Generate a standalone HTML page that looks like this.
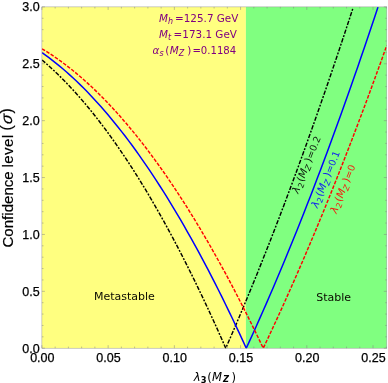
<!DOCTYPE html>
<html><head><meta charset="utf-8"><title>Confidence level plot</title>
<style>
html,body{margin:0;padding:0;background:#fff;}
svg{display:block;}
.tk{font-family:"Liberation Sans",sans-serif;font-size:12.5px;fill:#000;stroke:#000;stroke-width:0.25px;}
.dj{font-family:"DejaVu Sans",sans-serif;}
.it{font-style:italic;}
</style></head>
<body>
<svg width="388" height="383" viewBox="0 0 388 383">
<rect x="0" y="0" width="388" height="383" fill="#ffffff"/>
<rect x="41.9" y="6.9" width="204.0" height="341.3" fill="#ffff80"/>
<rect x="245.9" y="6.9" width="140.9" height="341.3" fill="#80ff80"/>
<clipPath id="fr"><rect x="41.9" y="6.9" width="344.90000000000003" height="341.6"/></clipPath>
<g fill="none" stroke-linejoin="round" clip-path="url(#fr)">
<path d="M42.00,59.94 L45.11,62.61 L48.23,65.36 L51.34,68.19 L54.46,71.09 L57.57,74.07 L60.69,77.12 L63.80,80.25 L66.92,83.46 L70.03,86.74 L73.14,90.10 L76.26,93.54 L79.37,97.05 L82.49,100.64 L85.60,104.30 L88.72,108.04 L91.83,111.86 L94.94,115.75 L98.06,119.72 L101.17,123.77 L104.29,127.89 L107.40,132.09 L110.52,136.37 L113.63,140.72 L116.75,145.15 L119.86,149.65 L122.97,154.23 L126.09,158.89 L129.20,163.62 L132.32,168.43 L135.43,173.32 L138.55,178.28 L141.66,183.32 L144.78,188.43 L147.89,193.62 L151.00,198.89 L154.12,204.23 L157.23,209.65 L160.35,215.15 L163.46,220.72 L166.58,226.37 L169.69,232.10 L172.81,237.90 L175.92,243.78 L179.03,249.73 L182.15,255.76 L185.26,261.87 L188.38,268.05 L191.49,274.31 L194.61,280.65 L197.72,287.06 L200.83,293.55 L203.95,300.11 L207.06,306.75 L210.18,313.47 L213.29,320.26 L216.41,327.13 L219.52,334.08 L222.64,341.10 L225.75,348.20 L229.01,340.73 L232.28,333.21 L235.54,325.61 L238.80,317.95 L242.06,310.22 L245.33,302.43 L248.59,294.57 L251.85,286.64 L255.12,278.65 L258.38,270.59 L261.64,262.46 L264.90,254.27 L268.17,246.01 L271.43,237.68 L274.69,229.29 L277.96,220.83 L281.22,212.31 L284.48,203.72 L287.74,195.06 L291.01,186.34 L294.27,177.55 L297.53,168.69 L300.79,159.77 L304.06,150.78 L307.32,141.73 L310.58,132.60 L313.85,123.41 L317.11,114.16 L320.37,104.84 L323.63,95.45 L326.90,86.00 L330.16,76.48 L333.42,66.89 L336.69,57.24 L339.95,47.52 L343.21,37.73 L346.47,27.88 L349.74,17.96 L353.00,7.98" stroke="#000" stroke-width="1.45" stroke-dasharray="4.3 1.5 1.9 1.5"/>
<path d="M42.00,52.68 L45.46,55.15 L48.92,57.70 L52.39,60.35 L55.85,63.08 L59.31,65.89 L62.77,68.80 L66.23,71.79 L69.69,74.87 L73.16,78.04 L76.62,81.30 L80.08,84.64 L83.54,88.07 L87.00,91.59 L90.47,95.20 L93.93,98.89 L97.39,102.67 L100.85,106.54 L104.31,110.50 L107.78,114.55 L111.24,118.68 L114.70,122.90 L118.16,127.21 L121.62,131.60 L125.08,136.08 L128.55,140.65 L132.01,145.31 L135.47,150.06 L138.93,154.89 L142.39,159.81 L145.86,164.82 L149.32,169.92 L152.78,175.10 L156.24,180.37 L159.70,185.73 L163.17,191.18 L166.63,196.72 L170.09,202.34 L173.55,208.05 L177.01,213.85 L180.47,219.73 L183.94,225.70 L187.40,231.76 L190.86,237.91 L194.32,244.15 L197.78,250.47 L201.25,256.88 L204.71,263.38 L208.17,269.97 L211.63,276.64 L215.09,283.40 L218.56,290.25 L222.02,297.19 L225.48,304.21 L228.94,311.33 L232.40,318.53 L235.86,325.81 L239.33,333.19 L242.79,340.65 L246.25,348.20 L249.63,340.87 L253.01,333.46 L256.38,325.98 L259.76,318.43 L263.14,310.80 L266.52,303.10 L269.90,295.32 L273.28,287.47 L276.65,279.54 L280.03,271.54 L283.41,263.46 L286.79,255.31 L290.17,247.08 L293.54,238.78 L296.92,230.41 L300.30,221.96 L303.68,213.43 L307.06,204.84 L310.44,196.16 L313.81,187.41 L317.19,178.59 L320.57,169.69 L323.95,160.72 L327.33,151.67 L330.71,142.55 L334.08,133.36 L337.46,124.09 L340.84,114.74 L344.22,105.32 L347.60,95.83 L350.97,86.26 L354.35,76.61 L357.73,66.89 L361.11,57.10 L364.49,47.23 L367.87,37.29 L371.24,27.27 L374.62,17.18 L378.00,7.01" stroke="#0000ff" stroke-width="1.5"/>
<path d="M42.00,48.76 L45.75,51.05 L49.50,53.44 L53.25,55.93 L57.00,58.51 L60.75,61.19 L64.50,63.97 L68.25,66.84 L72.00,69.80 L75.75,72.87 L79.50,76.03 L83.25,79.28 L87.00,82.63 L90.75,86.07 L94.50,89.62 L98.25,93.25 L102.00,96.99 L105.75,100.82 L109.50,104.74 L113.25,108.76 L117.00,112.88 L120.75,117.09 L124.50,121.40 L128.25,125.80 L132.00,130.30 L135.75,134.90 L139.50,139.59 L143.25,144.38 L147.00,149.26 L150.75,154.24 L154.50,159.32 L158.25,164.49 L162.00,169.76 L165.75,175.12 L169.50,180.58 L173.25,186.13 L177.00,191.78 L180.75,197.53 L184.50,203.37 L188.25,209.31 L192.00,215.34 L195.75,221.47 L199.50,227.70 L203.25,234.02 L207.00,240.44 L210.75,246.95 L214.50,253.56 L218.25,260.26 L222.00,267.07 L225.75,273.96 L229.50,280.95 L233.25,288.04 L237.00,295.23 L240.75,302.51 L244.50,309.88 L248.25,317.35 L252.00,324.92 L255.75,332.59 L259.50,340.35 L263.25,348.20 L266.42,341.52 L269.58,334.78 L272.75,327.99 L275.92,321.14 L279.08,314.24 L282.25,307.27 L285.42,300.25 L288.58,293.17 L291.75,286.04 L294.92,278.85 L298.08,271.60 L301.25,264.30 L304.42,256.93 L307.58,249.51 L310.75,242.04 L313.92,234.50 L317.08,226.91 L320.25,219.27 L323.42,211.56 L326.58,203.80 L329.75,195.98 L332.92,188.11 L336.08,180.17 L339.25,172.18 L342.42,164.14 L345.58,156.03 L348.75,147.87 L351.92,139.65 L355.08,131.38 L358.25,123.05 L361.42,114.66 L364.58,106.21 L367.75,97.71 L370.92,89.15 L374.08,80.53 L377.25,71.86 L380.42,63.13 L383.58,54.34 L386.75,45.50" stroke="#ff0000" stroke-width="1.45" stroke-dasharray="3.6 1.5"/>
</g>
<rect x="41.9" y="6.9" width="344.90000000000003" height="341.3" fill="none" stroke="#9a9a9a" stroke-width="0.5"/>
<path d="M41.90,348.2 v-3.0 M41.90,6.9 v3.0 M55.15,348.2 v-1.6 M55.15,6.9 v1.6 M68.39,348.2 v-1.6 M68.39,6.9 v1.6 M81.64,348.2 v-1.6 M81.64,6.9 v1.6 M94.88,348.2 v-1.6 M94.88,6.9 v1.6 M108.13,348.2 v-3.0 M108.13,6.9 v3.0 M121.37,348.2 v-1.6 M121.37,6.9 v1.6 M134.62,348.2 v-1.6 M134.62,6.9 v1.6 M147.86,348.2 v-1.6 M147.86,6.9 v1.6 M161.11,348.2 v-1.6 M161.11,6.9 v1.6 M174.35,348.2 v-3.0 M174.35,6.9 v3.0 M187.60,348.2 v-1.6 M187.60,6.9 v1.6 M200.84,348.2 v-1.6 M200.84,6.9 v1.6 M214.09,348.2 v-1.6 M214.09,6.9 v1.6 M227.33,348.2 v-1.6 M227.33,6.9 v1.6 M240.58,348.2 v-3.0 M240.58,6.9 v3.0 M253.82,348.2 v-1.6 M253.82,6.9 v1.6 M267.07,348.2 v-1.6 M267.07,6.9 v1.6 M280.31,348.2 v-1.6 M280.31,6.9 v1.6 M293.56,348.2 v-1.6 M293.56,6.9 v1.6 M306.80,348.2 v-3.0 M306.80,6.9 v3.0 M320.05,348.2 v-1.6 M320.05,6.9 v1.6 M333.29,348.2 v-1.6 M333.29,6.9 v1.6 M346.54,348.2 v-1.6 M346.54,6.9 v1.6 M359.78,348.2 v-1.6 M359.78,6.9 v1.6 M373.03,348.2 v-3.0 M373.03,6.9 v3.0 M386.27,348.2 v-1.6 M386.27,6.9 v1.6 M41.9,348.20 h3.0 M386.8,348.20 h-3.0 M41.9,336.82 h1.6 M386.8,336.82 h-1.6 M41.9,325.45 h1.6 M386.8,325.45 h-1.6 M41.9,314.07 h1.6 M386.8,314.07 h-1.6 M41.9,302.69 h1.6 M386.8,302.69 h-1.6 M41.9,291.32 h3.0 M386.8,291.32 h-3.0 M41.9,279.94 h1.6 M386.8,279.94 h-1.6 M41.9,268.56 h1.6 M386.8,268.56 h-1.6 M41.9,257.19 h1.6 M386.8,257.19 h-1.6 M41.9,245.81 h1.6 M386.8,245.81 h-1.6 M41.9,234.43 h3.0 M386.8,234.43 h-3.0 M41.9,223.06 h1.6 M386.8,223.06 h-1.6 M41.9,211.68 h1.6 M386.8,211.68 h-1.6 M41.9,200.30 h1.6 M386.8,200.30 h-1.6 M41.9,188.93 h1.6 M386.8,188.93 h-1.6 M41.9,177.55 h3.0 M386.8,177.55 h-3.0 M41.9,166.17 h1.6 M386.8,166.17 h-1.6 M41.9,154.80 h1.6 M386.8,154.80 h-1.6 M41.9,143.42 h1.6 M386.8,143.42 h-1.6 M41.9,132.04 h1.6 M386.8,132.04 h-1.6 M41.9,120.67 h3.0 M386.8,120.67 h-3.0 M41.9,109.29 h1.6 M386.8,109.29 h-1.6 M41.9,97.91 h1.6 M386.8,97.91 h-1.6 M41.9,86.54 h1.6 M386.8,86.54 h-1.6 M41.9,75.16 h1.6 M386.8,75.16 h-1.6 M41.9,63.78 h3.0 M386.8,63.78 h-3.0 M41.9,52.41 h1.6 M386.8,52.41 h-1.6 M41.9,41.03 h1.6 M386.8,41.03 h-1.6 M41.9,29.65 h1.6 M386.8,29.65 h-1.6 M41.9,18.28 h1.6 M386.8,18.28 h-1.6 M41.9,6.90 h3.0 M386.8,6.90 h-3.0" stroke="#808080" stroke-width="0.5" fill="none"/>
<g class="tk">
<text x="42.30" y="361.9" text-anchor="middle">0.00</text>
<text x="108.53" y="361.9" text-anchor="middle">0.05</text>
<text x="174.75" y="361.9" text-anchor="middle">0.10</text>
<text x="240.98" y="361.9" text-anchor="middle">0.15</text>
<text x="307.20" y="361.9" text-anchor="middle">0.20</text>
<text x="373.43" y="361.9" text-anchor="middle">0.25</text>
<text x="39.6" y="352.60" text-anchor="end">0.0</text>
<text x="39.6" y="295.72" text-anchor="end">0.5</text>
<text x="39.6" y="238.83" text-anchor="end">1.0</text>
<text x="39.6" y="181.95" text-anchor="end">1.5</text>
<text x="39.6" y="125.07" text-anchor="end">2.0</text>
<text x="39.6" y="68.18" text-anchor="end">2.5</text>
<text x="39.6" y="11.30" text-anchor="end">3.0</text>
</g>

<!-- y axis label -->
<g transform="translate(12.5,247.6) rotate(-90)" font-family="'Liberation Sans',sans-serif" font-size="15.1px" fill="#000" stroke="#000" stroke-width="0.2">
<text x="0" y="0">Confidence</text>
<text x="80" y="0" letter-spacing="0.4">level</text>
<text x="117" y="-0.2" font-size="15.6px">(</text>
<text transform="translate(123.1,-0.7) skewX(-8)" font-size="15.8px" font-style="italic">σ</text>
<text x="134.2" y="-0.2" font-size="15.6px">)</text>
</g>

<!-- x axis label -->
<g class="dj" font-size="11.6px" fill="#000">
<text x="193.7" y="380.8" class="it">λ</text>
<text x="200.7" y="382.6" font-size="8.3px" font-weight="bold">3</text>
<text x="207.2" y="380.8">(</text>
<text x="212" y="380.8" class="it">M</text>
<text x="223" y="381.9" font-size="8.3px" font-weight="bold" class="it">Z</text>
<text x="231.6" y="380.8">)</text>
</g>

<!-- annotations -->
<g class="dj" font-size="10.4px" fill="#800080">
<text x="159" y="21.7"><tspan class="it">M</tspan><tspan class="it" font-size="8px" dy="2.4">h</tspan><tspan dy="-2.4" dx="2">=125.7 GeV</tspan></text>
<text x="159" y="37.7"><tspan class="it">M</tspan><tspan class="it" font-size="8px" dy="2.4">t</tspan><tspan dy="-2.4" dx="2.5">=173.1 GeV</tspan></text>
<text x="152.6" y="53.5"><tspan class="it">α</tspan><tspan class="it" font-size="8px" dy="2.4">s</tspan><tspan dy="-2.4" dx="1.5">(</tspan><tspan class="it" dx="0.5">M</tspan><tspan class="it" font-size="8px" dy="2.4">Z</tspan><tspan dy="-2.4" dx="3">)</tspan><tspan dx="1.2" font-size="10.1px">=0.1184</tspan></text>
</g>
<g class="dj" font-size="11px" fill="#0a0a00">
<text x="93.9" y="300.3">Metastable</text>
<text x="316.3" y="300.9">Stable</text>
</g>

<!-- curve labels -->
<g class="dj" font-size="10.4px" fill-opacity="0.88">
<text transform="translate(298.3,194) rotate(-68)" fill="#000"><tspan class="it">λ</tspan><tspan font-size="8px" dy="2.2" dx="0.3">2</tspan><tspan dy="-2.2" dx="0.8">(</tspan><tspan class="it">M</tspan><tspan class="it" font-size="8px" dy="2.2">Z</tspan><tspan dy="-2.2" dx="2.3">)</tspan><tspan font-size="9.6px">=0.2</tspan></text>
<text transform="translate(317.4,208.6) rotate(-68)" fill="#0000ff"><tspan class="it">λ</tspan><tspan font-size="8px" dy="2.2" dx="0.3">2</tspan><tspan dy="-2.2" dx="0.8">(</tspan><tspan class="it">M</tspan><tspan class="it" font-size="8px" dy="2.2">Z</tspan><tspan dy="-2.2" dx="2.3">)</tspan><tspan font-size="9.6px">=0.1</tspan></text>
<text transform="translate(336.4,214) rotate(-68)" fill="#ff0000"><tspan class="it">λ</tspan><tspan font-size="8px" dy="2.2" dx="0.3">2</tspan><tspan dy="-2.2" dx="0.8">(</tspan><tspan class="it">M</tspan><tspan class="it" font-size="8px" dy="2.2">Z</tspan><tspan dy="-2.2" dx="2.3">)</tspan><tspan font-size="9.6px">=0</tspan></text>
</g>
</svg>
</body></html>
